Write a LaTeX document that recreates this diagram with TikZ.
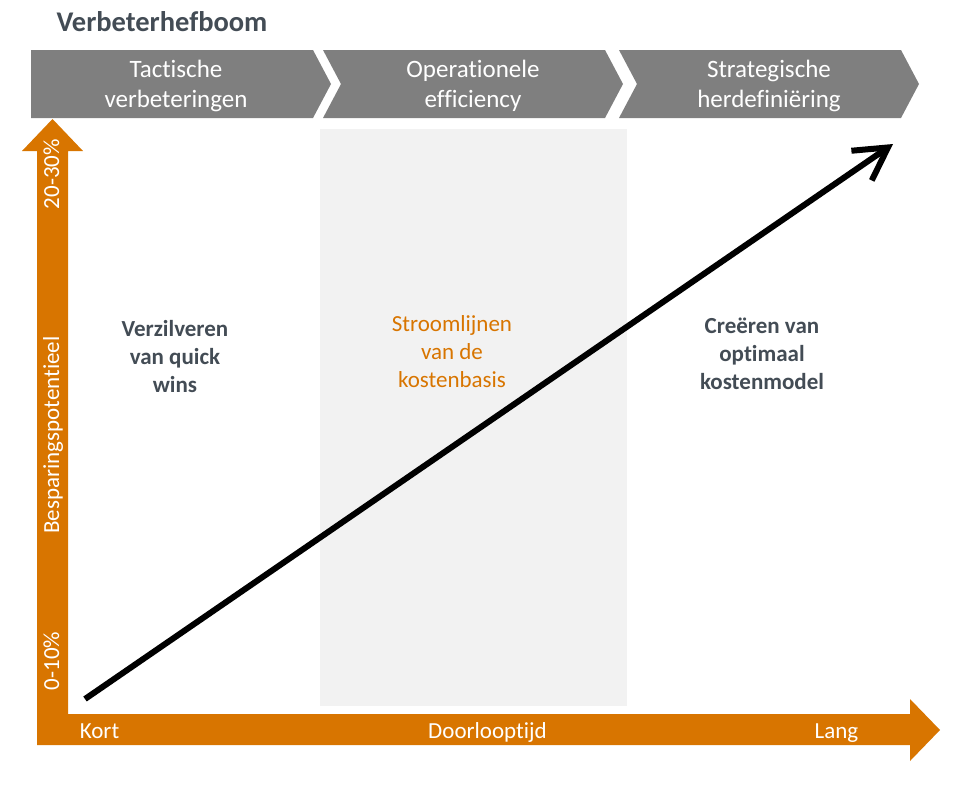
\documentclass[tikz,border=0pt]{standalone}
\usepackage{fontspec}
\setmainfont{Carlito}[RawFeature=-liga]
\usepackage{tikz}
\usetikzlibrary{arrows.meta}
\definecolor{axisorange}{HTML}{D87500}
\definecolor{phasegray}{HTML}{7F7F7F}
\definecolor{bandgray}{HTML}{F2F2F2}
\definecolor{darktext}{HTML}{434C55}

\begin{document}
\begin{tikzpicture}[%
  x=1pt, y=-1pt,
  phase/.style={fill=phasegray, draw=none},
  phase label/.style={text=white, align=center, font=\fontsize{25}{30}\selectfont},
  axis label/.style={text=white, anchor=base, font=\fontsize{23}{27}\selectfont},
  lever/.style={text=darktext, align=center, font=\bfseries\fontsize{23}{28}\selectfont},
  growth/.style={draw=black, line width=6pt, -{Straight Barb[length=32pt,width=36pt]}}
  ]
  \useasboundingbox (0,0) rectangle (964,790);
  \def\phasew{282}

  % Title
  \node[anchor=base west, text=darktext, font=\bfseries\fontsize{28.5}{34}\selectfont] (title) at (53,31) {Verbeterhefboom};

  % Draw the phase chevrons
  \fill[phase] (31,50) -- ++(\phasew,0) -- ++(18,34) -- ++(-18,34) -- ++(-\phasew,0) -- cycle;
  \foreach \x in {323,619}
  \fill[phase] (\x,50) -- ++(\phasew,0) -- ++(18,34) -- ++(-18,34) -- ++(-\phasew,0) -- ++(18,-34) -- cycle;

  \node[phase label] (P-1) at (176,86) {Tactische\\verbeteringen};
  \node[phase label] (P-2) at (473,86) {Operationele\\efficiency};
  \node[phase label] (P-3) at (769,86) {Strategische\\herdefiniëring};

  % Middle band
  \fill[bandgray] (320,129) rectangle (627,706);

  % Draw the axes
  \fill[axisorange] (37,745) -- (37,151) -- (22,151) -- (52.5,119) -- (83,151) -- (68,151)
    -- (68,714) -- (910,714) -- (910,699) -- (940,730) -- (910,761) -- (910,745) -- cycle;

  \node[axis label, rotate=90] (pct-hi) at (59,174) {20-30\%};
  \node[axis label, rotate=90] (axis-y) at (59,435) {Besparingspotentieel};
  \node[axis label, rotate=90] (pct-lo) at (59,661) {0-10\%};

  \node[axis label] (kort) at (99.5,738) {Kort};
  \node[axis label] (tijd) at (487.5,738) {Doorlooptijd};
  \node[axis label] (lang) at (836.5,738) {Lang};

  % Annotate the levers
  \node[lever] (wins) at (175,357) {Verzilveren\\van quick\\wins};
  \node[lever, text=axisorange, font=\fontsize{23}{28}\selectfont] (stream) at (452,352) {Stroomlijnen\\van de\\kostenbasis};
  \node[lever] (model) at (762,354) {Creëren van\\optimaal\\kostenmodel};

  %%%
  \coordinate (low) at (85,699);
  \coordinate (high) at (893,144);
  \draw[growth] (low) -- (high);
\end{tikzpicture}
\end{document}
